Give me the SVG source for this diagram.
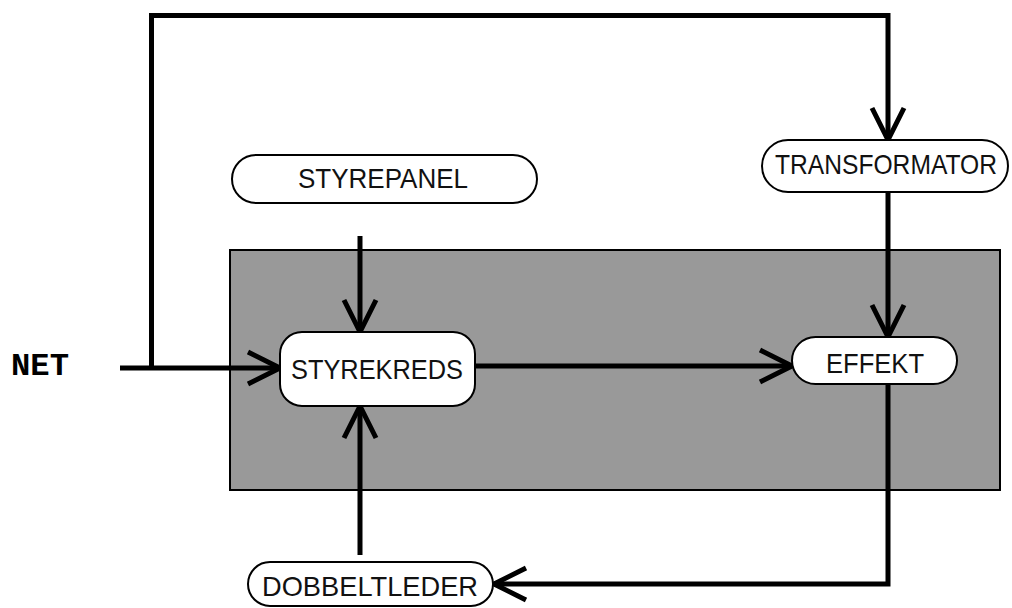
<svg xmlns="http://www.w3.org/2000/svg" width="1012" height="608" viewBox="0 0 1012 608">
<style>
.node rect{fill:#fff;stroke:#000;stroke-width:2}
.node text{font-family:"Liberation Sans",Arial,sans-serif;font-size:28px;fill:#111;text-anchor:middle}
.conn path{fill:none;stroke:#000;stroke-width:5}
.lbl{font-family:"Liberation Mono","Courier New",monospace;font-weight:bold;font-size:31px;fill:#000}
</style>
<defs>
<marker id="arr" markerUnits="userSpaceOnUse" markerWidth="40" markerHeight="40" refX="33" refY="17" orient="auto" overflow="visible">
<path d="M1,1 L33,17 L1,33" fill="none" stroke="#000" stroke-width="5" stroke-linejoin="miter"/>
</marker>
</defs>
<rect id="panel-bg" x="230" y="250" width="770" height="240" fill="#999999" stroke="#000" stroke-width="2"/>
<text class="lbl" x="11" y="375" textLength="58" lengthAdjust="spacingAndGlyphs">NET</text>
<g class="conn">
<path d="M120,368 H280" marker-end="url(#arr)"/>
<path d="M151.5,368 V15.5 H888 V140" marker-end="url(#arr)"/>
<path d="M360,236 V332" marker-end="url(#arr)"/>
<path d="M475,366 H792" marker-end="url(#arr)"/>
<path d="M888,192 V337" marker-end="url(#arr)"/>
<path d="M888,384 V584 H494" marker-end="url(#arr)"/>
<path d="M360,555 V406" marker-end="url(#arr)"/>
</g>
<g id="styrepanel" class="node"><rect x="232" y="155" width="305" height="48" rx="24"/><text x="383" y="188" textLength="170" lengthAdjust="spacingAndGlyphs">STYREPANEL</text></g>
<g id="transformator" class="node"><rect x="762" y="140" width="246" height="52" rx="26"/><text x="886" y="174" font-size="25" textLength="222" lengthAdjust="spacingAndGlyphs">TRANSFORMATOR</text></g>
<g id="styrekreds" class="node"><rect x="280" y="332" width="195" height="74" rx="22"/><text x="377" y="379" textLength="172" lengthAdjust="spacingAndGlyphs">STYREKREDS</text></g>
<g id="effekt" class="node"><rect x="792" y="337" width="165" height="47" rx="23.5"/><text x="875" y="373" textLength="98" lengthAdjust="spacingAndGlyphs">EFFEKT</text></g>
<g id="dobbeltleder" class="node"><rect x="248" y="562" width="245" height="44" rx="22"/><text x="370" y="596" textLength="216" lengthAdjust="spacingAndGlyphs">DOBBELTLEDER</text></g>
</svg>
